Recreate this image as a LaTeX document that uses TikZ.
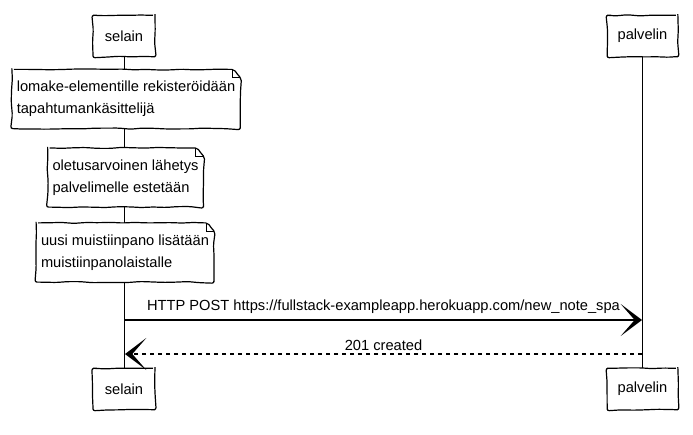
\documentclass[tikz,border=0pt]{standalone}
\usepackage{fontspec}
\setmainfont{Liberation Sans}
\usetikzlibrary{arrows.meta,decorations.pathmorphing,positioning}

\tikzset{
  sketch/.style={decorate,decoration={random steps,segment length=9pt,amplitude=0.45pt},rounded corners=1.5pt},
  actor/.style={draw,sketch,line width=0.9pt,inner xsep=2pt,minimum height=31pt,font=\fontsize{11pt}{13pt}\selectfont},
  notebox/.style={fill=white,align=left,inner xsep=3.5pt,minimum height=44pt,font=\fontsize{11pt}{16.5pt}\selectfont},
  lifeline/.style={line width=0.6pt},
  msg/.style={line width=1pt,-{Stealth[length=16pt,width=24pt,inset=10.5pt]}},
  msglabel/.style={font=\fontsize{11pt}{13pt}\selectfont},
}

\begin{document}
\begin{tikzpicture}[x=0.75pt,y=-0.75pt]
  \useasboundingbox (0,0) rectangle (693,435);
  % osallistujat
  \node[actor,minimum width=46.5pt] (selT) at (124,36) {selain};
  \node[actor,minimum width=53pt] (palT) at (642.5,36) {palvelin};
  \node[actor,minimum width=46.5pt] (selB) at (124,389) {selain};
  \node[actor,minimum width=53pt] (palB) at (642.5,389) {palvelin};
  \draw[lifeline] (selT) -- (selB);
  \draw[lifeline] (palT) -- (palB);
  % muistiinpanot
  \node[notebox] (n1) at (126,99) {lomake-elementille rekisteröidään\\tapahtumankäsittelijä};
  \node[notebox] (n2) at (125.5,177.5) {oletusarvoinen lähetys\\palvelimelle estetään};
  \node[notebox] (n3) at (125,252.5) {uusi muistiinpano lisätään\\muistiinpanolaistalle};
  \foreach \n in {n1,n2,n3}{
    \draw[sketch,line width=0.9pt] (\n.north west) -- ([xshift=-6pt]\n.north east)
      -- ([yshift=-6pt]\n.north east) -- (\n.south east) -- (\n.south west) -- cycle;
    \draw[line width=0.6pt] ([xshift=-6pt]\n.north east) |- ([yshift=-6pt]\n.north east);
  }
  % viestit
  \coordinate (s1) at (125,320);
  \coordinate (p1) at (642,320);
  \coordinate (s2) at (125,354);
  \coordinate (p2) at (642,354);
  \draw[msg] (s1) -- (p1) node[midway,above=1pt,msglabel] {HTTP POST https://fullstack-exampleapp.herokuapp.com/new\_note\_spa};
  \draw[msg,dashed] (p2) -- (s2) node[midway,above=-1pt,msglabel] {201 created};
\end{tikzpicture}
\end{document}
